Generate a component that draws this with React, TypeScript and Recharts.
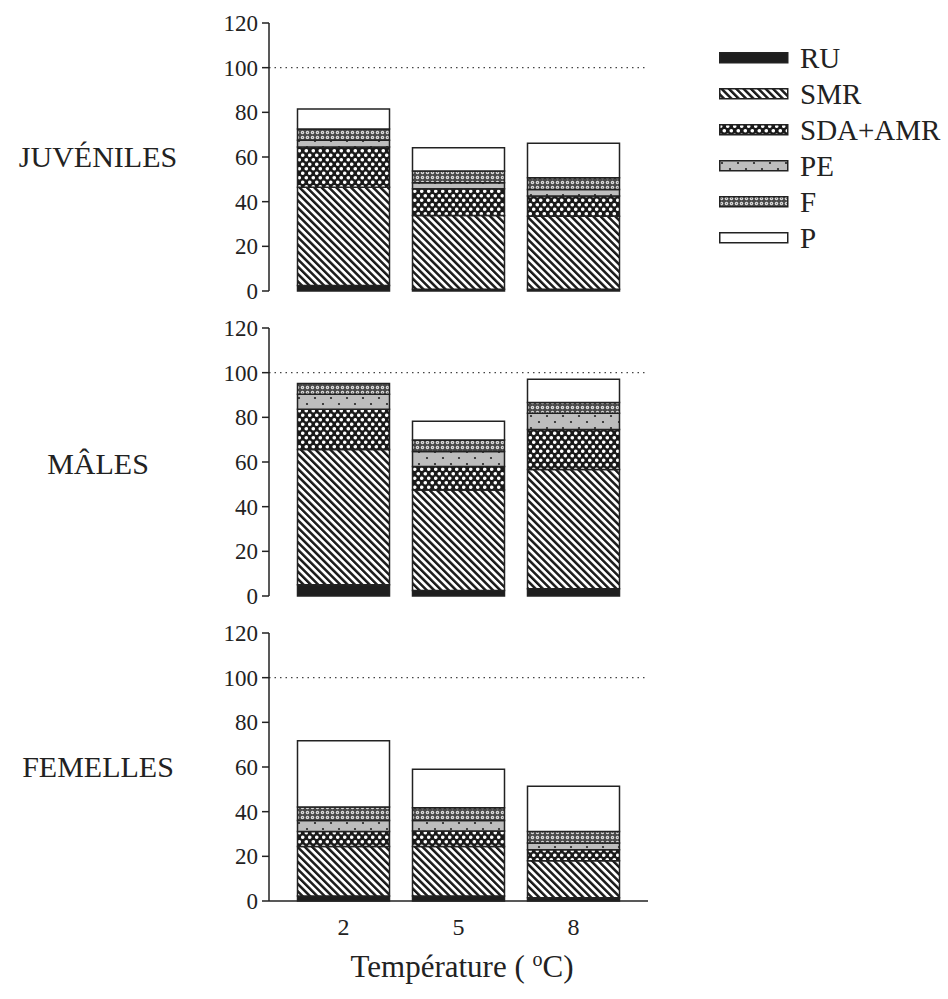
import { BarChart, Bar, XAxis, YAxis, ReferenceLine } from 'recharts';

const temps = ['2', '5', '8'];
const yTicks = [0, 20, 40, 60, 80, 100, 120];
const seriesNames = ['RU', 'SMR', 'SDA+AMR', 'PE', 'F', 'P'];

// juvéniles
const juvRU = [2.5, 0.8, 0.8];
const juvSMR = [44, 33, 32.7];
const juvSDA = [18, 12, 9];
const juvPE = [3, 2.7, 2.9];
const juvF = [5, 5.2, 5.3];
const juvP = [9, 10.4, 15.5];

// mâles
const malRU = [5, 2.5, 3.3];
const malSMR = [60.6, 45, 53.3];
const malSDA = [18, 10.5, 18];
const malPE = [6.7, 6.7, 7.2];
const malF = [4.9, 5.2, 4.8];
const malP = [0, 8.3, 10.5];

// femelles
const femRU = [2.2, 2.2, 1.5];
const femSMR = [22.2, 22.2, 16.5];
const femSDA = [6.7, 6.9, 4.9];
const femPE = [5, 4.8, 3.1];
const femF = [6, 5.6, 5.1];
const femP = [29.6, 17.3, 20.3];

const fills: Record<string, string> = {
  RU: '#1e1e1e',
  SMR: 'url(#pSMR)',
  'SDA+AMR': 'url(#pSDA)',
  PE: 'url(#pPE)',
  F: 'url(#pF)',
  P: '#ffffff',
};

const serif = '"Liberation Serif", "Times New Roman", serif';
const ink = '#222';

function buildRows(ru: number[], smr: number[], sda: number[], pe: number[], f: number[], p: number[]) {
  return temps.map((t, i) => ({
    temp: t,
    RU: ru[i],
    SMR: smr[i],
    'SDA+AMR': sda[i],
    PE: pe[i],
    F: f[i],
    P: p[i],
  }));
}

const panels = [
  { label: 'JUVÉNILES', rows: buildRows(juvRU, juvSMR, juvSDA, juvPE, juvF, juvP) },
  { label: 'MÂLES', rows: buildRows(malRU, malSMR, malSDA, malPE, malF, malP) },
  { label: 'FEMELLES', rows: buildRows(femRU, femSMR, femSDA, femPE, femF, femP) },
];

function Patterns() {
  return (
    <svg width={0} height={0} style={{ position: 'absolute' }}>
      <defs>
        <pattern id="pSMR" patternUnits="userSpaceOnUse" width={5.2} height={5.2} patternTransform="rotate(-45)">
          <rect width={5.2} height={5.2} fill="#fff" />
          <rect x={0} y={0} width={2.5} height={5.2} fill="#1a1a1a" />
        </pattern>
        <pattern id="pSDA" patternUnits="userSpaceOnUse" width={7} height={9}>
          <rect width={7} height={9} fill="#1a1a1a" />
          <circle cx={1.75} cy={2.25} r={1.8} fill="#fff" />
          <circle cx={5.25} cy={6.75} r={1.8} fill="#fff" />
        </pattern>
        <pattern id="pPE" patternUnits="userSpaceOnUse" width={16} height={12}>
          <rect width={16} height={12} fill="#bdbdbd" />
          <circle cx={3} cy={3} r={1.1} fill="#222" />
          <circle cx={11} cy={9} r={1.1} fill="#222" />
        </pattern>
        <pattern id="pF" patternUnits="userSpaceOnUse" width={5} height={5}>
          <rect width={5} height={5} fill="#4a4a4a" />
          <circle cx={2.5} cy={2.5} r={1.7} fill="#e6e6e6" />
          <circle cx={2.5} cy={2.5} r={0.7} fill="#777" />
        </pattern>
      </defs>
    </svg>
  );
}

function Panel({ rows, showX, top }: { rows: any[]; showX: boolean; top: number }) {
  const height = showX ? 389 : 305;
  return (
    <div style={{ position: 'absolute', left: 0, top }}>
      <BarChart
        width={700}
        height={height}
        data={rows}
        margin={{ top: 23, right: 52, left: 209, bottom: showX ? 58 : 14 }}
        barCategoryGap="10%"
      >
        <XAxis
          dataKey="temp"
          padding={{ left: 17, right: 17 }}
          axisLine={{ stroke: ink, strokeWidth: 1.5 }}
          tickLine={false}
          tickSize={0}
          tickMargin={17}
          height={showX ? 40 : 0}
          tick={showX ? { fontFamily: serif, fontSize: 24, fill: ink } : false}
        />
        <YAxis
          domain={[0, 120]}
          ticks={yTicks}
          interval={0}
          width={60}
          tickSize={7}
          tickMargin={4}
          axisLine={{ stroke: ink, strokeWidth: 1.5 }}
          tickLine={{ stroke: ink, strokeWidth: 1.5 }}
          tick={{ fontFamily: serif, fontSize: 23, fill: ink }}
        />
        <ReferenceLine y={100} stroke="#444" strokeWidth={1.2} strokeDasharray="1.5 4" />
        {seriesNames.map((name) => (
          <Bar
            key={name}
            dataKey={name}
            stackId="s"
            fill={fills[name]}
            stroke={ink}
            strokeWidth={1.5}
            isAnimationActive={false}
          />
        ))}
      </BarChart>
    </div>
  );
}

function LegendBox() {
  return (
    <div style={{ position: 'absolute', left: 719, top: 40 }}>
      {seriesNames.map((name) => (
        <div key={name} style={{ display: 'flex', alignItems: 'center', height: 36 }}>
          <svg width={70} height={12}>
            <rect x={0.75} y={0.75} width={68} height={10} fill={fills[name]} stroke={ink} strokeWidth={1.5} />
          </svg>
          <span style={{ fontFamily: serif, fontSize: 29, color: ink, marginLeft: 11 }}>{name}</span>
        </div>
      ))}
    </div>
  );
}

export default function App() {
  const labelTops = [140, 447, 750];
  return (
    <div style={{ position: 'absolute', left: 0, top: 0, width: 948, height: 999, background: '#fff' }}>
      <Patterns />
      {panels.map((p, i) => (
        <Panel key={p.label} rows={p.rows} showX={i === 2} top={305 * i} />
      ))}
      {panels.map((p, i) => (
        <div
          key={p.label + '-lbl'}
          style={{
            position: 'absolute',
            left: 0,
            width: 196,
            top: labelTops[i],
            textAlign: 'center',
            fontFamily: serif,
            fontSize: 30,
            color: ink,
          }}
        >
          {p.label}
        </div>
      ))}
      <LegendBox />
      <div
        style={{
          position: 'absolute',
          left: 262,
          width: 400,
          top: 948,
          textAlign: 'center',
          fontFamily: serif,
          fontSize: 31,
          color: ink,
        }}
      >
        Température ( <sup style={{ fontSize: 20 }}>o</sup>C)
      </div>
    </div>
  );
}
